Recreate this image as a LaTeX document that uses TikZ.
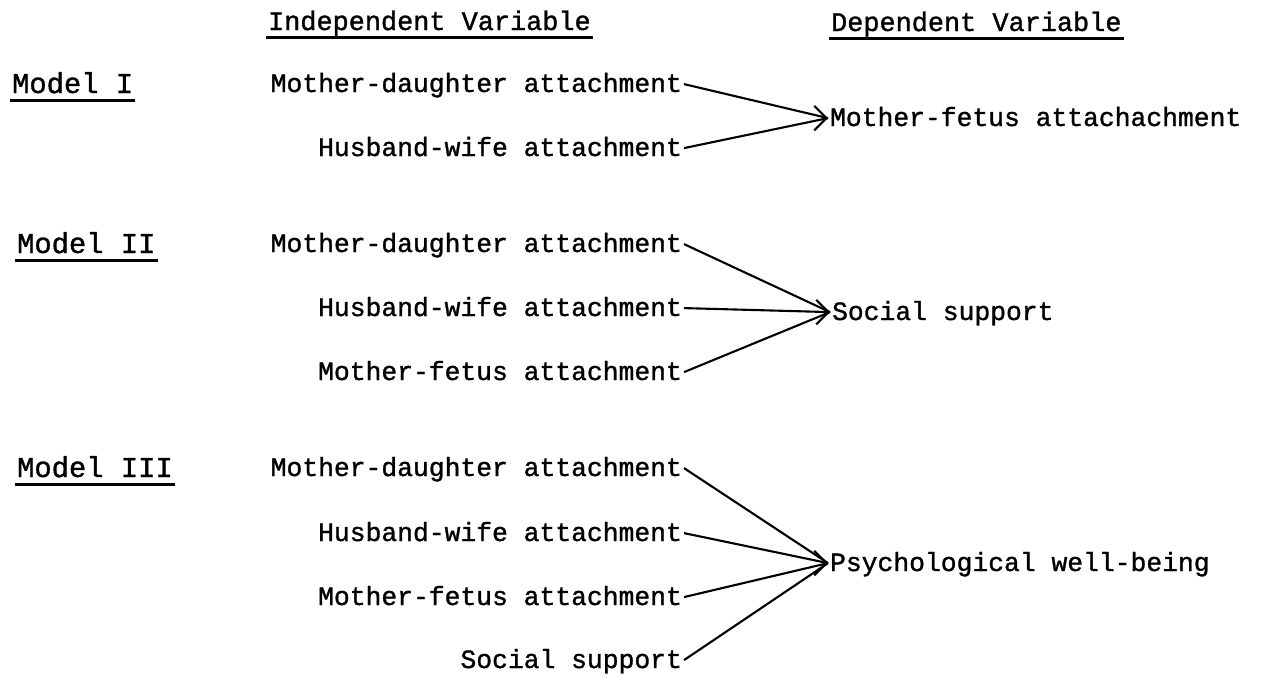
\documentclass[tikz,border=0pt]{standalone}
\usepackage{fontspec}
\setmainfont{Liberation Mono}[FakeBold=1.2]
\usetikzlibrary{arrows.meta}

\begin{document}
\begin{tikzpicture}[
  x=0.02cm, y=-0.02cm,
  var/.style={inner sep=1pt,text height=9pt,text depth=0pt,font=\fontsize{15}{18}\selectfont},
  ind/.style={var,anchor=base east},
  dep/.style={var,anchor=base west},
  head/.style={inner sep=1pt,anchor=base west,font=\fontsize{15.3}{18}\selectfont},
  model/.style={inner sep=1pt,anchor=base west,font=\fontsize{16.4}{20}\selectfont},
  link/.style={line width=1.2pt},
  tip/.style={-{Straight Barb[length=7pt,width=14pt,line width=1.2pt]}},
  uline/.style={line width=1.4pt},
]
\useasboundingbox (0,0) rectangle (1267,677);

% Column headings
\node[head] (ihead) at (266,30) {Independent Variable};
\node[head] (dhead) at (829,31) {Dependent Variable};

% Model labels
\node[model] (m1) at (10,93) {Model I};
\node[model] (m2) at (15,253) {Model II};
\node[model] (m3) at (15,477) {Model III};

% Underlines
\foreach \n in {ihead,dhead,m1,m2,m3}
  \draw[uline] ([yshift=-4.3pt]\n.base west) -- ([yshift=-4.3pt]\n.base east);

% Model I
\node[ind] (m1md) at (684,92) {Mother-daughter attachment};
\node[ind] (m1hw) at (684,156) {Husband-wife attachment};
\node[dep] (m1dv) at (828,126) {Mother-fetus attachachment};

% Model II
\node[ind] (m2md) at (684,252) {Mother-daughter attachment};
\node[ind] (m2hw) at (684,316) {Husband-wife attachment};
\node[ind] (m2mf) at (684,380) {Mother-fetus attachment};
\node[dep] (m2dv) at (830,320) {Social support};

% Model III
\node[ind] (m3md) at (684,476) {Mother-daughter attachment};
\node[ind] (m3hw) at (684,541) {Husband-wife attachment};
\node[ind] (m3mf) at (684,605) {Mother-fetus attachment};
\node[ind] (m3ss) at (684,668) {Social support};
\node[dep] (m3dv) at (828,571) {Psychological well-being};

% Paths
\foreach \s in {m1md,m1hw}
  \draw[link] (\s.east) -- (m1dv.west);
\foreach \s in {m2md,m2hw,m2mf}
  \draw[link] (\s.east) -- (m2dv.west);
\foreach \s in {m3md,m3hw,m3mf,m3ss}
  \draw[link] (\s.east) -- (m3dv.west);

% Arrowheads
\foreach \t in {m1dv,m2dv,m3dv}
  \draw[tip] ([xshift=-2pt]\t.west) -- (\t.west);

\end{tikzpicture}
\end{document}
